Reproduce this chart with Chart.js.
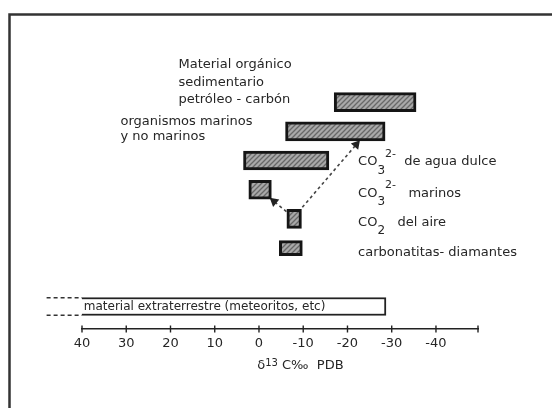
<!DOCTYPE html>
<html>
<head>
<meta charset="utf-8">
<script src="https://cdn.jsdelivr.net/npm/chart.js@4.4.1/dist/chart.umd.min.js"></script>
<style>
  html, body { margin: 0; padding: 0; background: #fff; }
  #wrap { width: 552px; height: 408px; position: relative; }
</style>
</head>
<body>
<div id="wrap"><canvas id="chart"></canvas></div>
<script>
// Rangos de δ13C (‰ PDB), una fila por categoría
const categories = [
  'Material orgánico sedimentario, petróleo - carbón',
  'organismos marinos y no marinos',
  'CO3 2- de agua dulce',
  'CO3 2- marinos',
  'CO2 del aire',
  'carbonatitas - diamantes'
];
const rangeStart = [-17, -6, 3.5, 2.3, -6.3, -4.6];
const rangeEnd = [-35.5, -28.5, -15.8, -2.8, -9.6, -9.8];

// material extraterrestre: sigue más allá de 40 (línea discontinua)
const meteorRange = [40, -28.7];
const meteorOpenEnd = 48;

const tickValues = [40, 30, 20, 10, 0, -10, -20, -30, -40];
const axisEnd = -49.5;

// flechas punteadas [δ13C, fila] origen -> destino
const arrowFrom = [[-9.8, 3.6], [-6.2, 3.75]];
const arrowTo = [[-22, 1.45], [-3.4, 3.4]];

const FONT = "'DejaVu Sans', sans-serif";
const INK = '#262626';

function hatchPattern() {
  const c = document.createElement('canvas');
  c.width = 5; c.height = 5;
  const g = c.getContext('2d');
  g.fillStyle = '#a9a9a9';
  g.fillRect(0, 0, 5, 5);
  g.strokeStyle = '#686868';
  g.lineWidth = 1.3;
  g.beginPath();
  g.moveTo(0, 5); g.lineTo(5, 0);
  g.moveTo(-1, 1); g.lineTo(1, -1);
  g.moveTo(4, 6); g.lineTo(6, 4);
  g.stroke();
  return g.createPattern(c, 'repeat');
}
const fill = hatchPattern();

const rows = categories.map((c, i) => ({ x: [rangeStart[i], rangeEnd[i]], y: i }));
const meteorRow = categories.length + 1;

function arrowDataset(i) {
  const from = arrowFrom[i], to = arrowTo[i];
  return {
    type: 'line',
    data: [{ x: from[0], y: from[1] }, { x: to[0], y: to[1] }],
    borderColor: '#444',
    borderWidth: 1.6,
    borderDash: [3, 3],
    pointStyle: 'triangle',
    pointRadius: [0, 4],
    pointBackgroundColor: '#222',
    pointBorderColor: '#222',
    pointRotation: (ctx) => {
      const { x, y } = ctx.chart.scales;
      const dx = x.getPixelForValue(to[0]) - x.getPixelForValue(from[0]);
      const dy = y.getPixelForValue(to[1]) - y.getPixelForValue(from[1]);
      return Math.atan2(dx, -dy) * 180 / Math.PI;
    },
    clip: false
  };
}

function openLine(offset) {
  return {
    type: 'line',
    data: [{ x: meteorOpenEnd, y: meteorRow + offset }, { x: meteorRange[0], y: meteorRow + offset }],
    borderColor: '#333',
    borderWidth: 1.6,
    borderDash: [4, 3],
    pointRadius: 0,
    clip: false
  };
}

// marcas de las divisiones: cruzan la línea del eje
const axisMarks = {
  type: 'line',
  data: tickValues.concat([axisEnd]).map(v => ({ x: v, y: 7.77 })),
  showLine: false,
  pointStyle: 'line',
  pointRotation: 90,
  pointRadius: 3.5,
  pointBorderColor: '#222',
  pointBorderWidth: 1.4,
  clip: false
};

// trozos de texto con sub/superíndices
function drawRich(ctx, parts, x, y) {
  let cx = x;
  parts.forEach(p => {
    ctx.font = (p.size || 13) + 'px ' + FONT;
    ctx.fillText(p.t, cx, y + (p.dy || 0));
    cx += ctx.measureText(p.t).width;
  });
}

const labelPlugin = {
  id: 'figureText',
  beforeDraw(chart) {
    const ctx = chart.ctx;
    ctx.save();
    ctx.strokeStyle = '#333';
    ctx.lineWidth = 2.5;
    ctx.beginPath();
    ctx.moveTo(9.5, 408);
    ctx.lineTo(9.5, 14.5);
    ctx.lineTo(552, 14.5);
    ctx.stroke();
    ctx.restore();
  },
  afterDatasetsDraw(chart) {
    const { ctx, scales: { x, y } } = chart;
    ctx.save();
    ctx.fillStyle = INK;
    ctx.textBaseline = 'middle';
    ctx.textAlign = 'left';
    ctx.font = '13px ' + FONT;

    const topLines = ['Material orgánico', 'sedimentario', 'petróleo - carbón'];
    topLines.forEach((t, k) => ctx.fillText(t, x.getPixelForValue(18.2), y.getPixelForValue(-1.28) + k * 17.5));

    const orgLines = ['organismos marinos', 'y no marinos'];
    orgLines.forEach((t, k) => ctx.fillText(t, x.getPixelForValue(31.3), y.getPixelForValue(0.65) + k * 15));

    const rx = x.getPixelForValue(-22.4);
    drawRich(ctx, [{ t: 'CO' }, { t: '3', size: 12, dy: 9 }, { t: '2-', size: 11, dy: -8 }, { t: '  de agua dulce' }], rx, y.getPixelForValue(2.05));
    drawRich(ctx, [{ t: 'CO' }, { t: '3', size: 12, dy: 9 }, { t: '2-', size: 11, dy: -8 }, { t: '   marinos' }], rx, y.getPixelForValue(3.12));
    drawRich(ctx, [{ t: 'CO' }, { t: '2', size: 12, dy: 8 }, { t: '   del aire' }], rx, y.getPixelForValue(4.12));
    ctx.font = '13px ' + FONT;
    ctx.fillText('carbonatitas- diamantes', rx, y.getPixelForValue(5.15));

    ctx.font = '12px ' + FONT;
    ctx.fillText('material extraterrestre (meteoritos, etc)', x.getPixelForValue(39.6), y.getPixelForValue(meteorRow));

    drawRich(ctx, [{ t: 'δ' }, { t: '13', size: 10, dy: -3 }, { t: ' C‰  PDB' }], x.getPixelForValue(0.4), 366);
    ctx.restore();
  }
};

new Chart(document.getElementById('chart'), {
  type: 'bar',
  data: {
    datasets: [
      {
        type: 'bar', indexAxis: 'y', grouped: false,
        data: rows.slice(0, 5),
        backgroundColor: fill, borderColor: '#151515', borderWidth: 3, borderSkipped: false,
        barThickness: 19
      },
      {
        type: 'bar', indexAxis: 'y', grouped: false,
        data: rows.slice(5),
        backgroundColor: fill, borderColor: '#151515', borderWidth: 3, borderSkipped: false,
        barThickness: 15
      },
      {
        type: 'bar', indexAxis: 'y', grouped: false,
        data: [{ x: meteorRange, y: meteorRow }],
        backgroundColor: '#fff', borderColor: '#222',
        borderWidth: { top: 2, right: 2, bottom: 2, left: 0 }, borderSkipped: false,
        barThickness: 18
      },
      openLine(-0.3),
      openLine(0.3),
      arrowDataset(0),
      arrowDataset(1),
      axisMarks
    ]
  },
  options: {
    responsive: true,
    maintainAspectRatio: false,
    animation: false,
    events: [],
    layout: { padding: { left: 82, right: 74, top: 14.56, bottom: 53.4 } },
    plugins: { legend: { display: false }, tooltip: { enabled: false } },
    scales: {
      x: {
        type: 'linear', reverse: true, min: axisEnd, max: 40, offset: false,
        afterBuildTicks: (s) => { s.ticks = tickValues.map(v => ({ value: v })); },
        ticks: {
          autoSkip: false, maxRotation: 0, padding: 3, color: INK,
          font: { family: FONT, size: 13 }
        },
        grid: { display: false, drawOnChartArea: false, drawTicks: true, tickLength: 4, offset: false },
        border: { display: true, color: '#222', width: 1.5 }
      },
      y: {
        type: 'linear', display: false, reverse: true, min: -3, max: 7.77, offset: false
      }
    }
  },
  plugins: [labelPlugin]
});
</script>
</body>
</html>
